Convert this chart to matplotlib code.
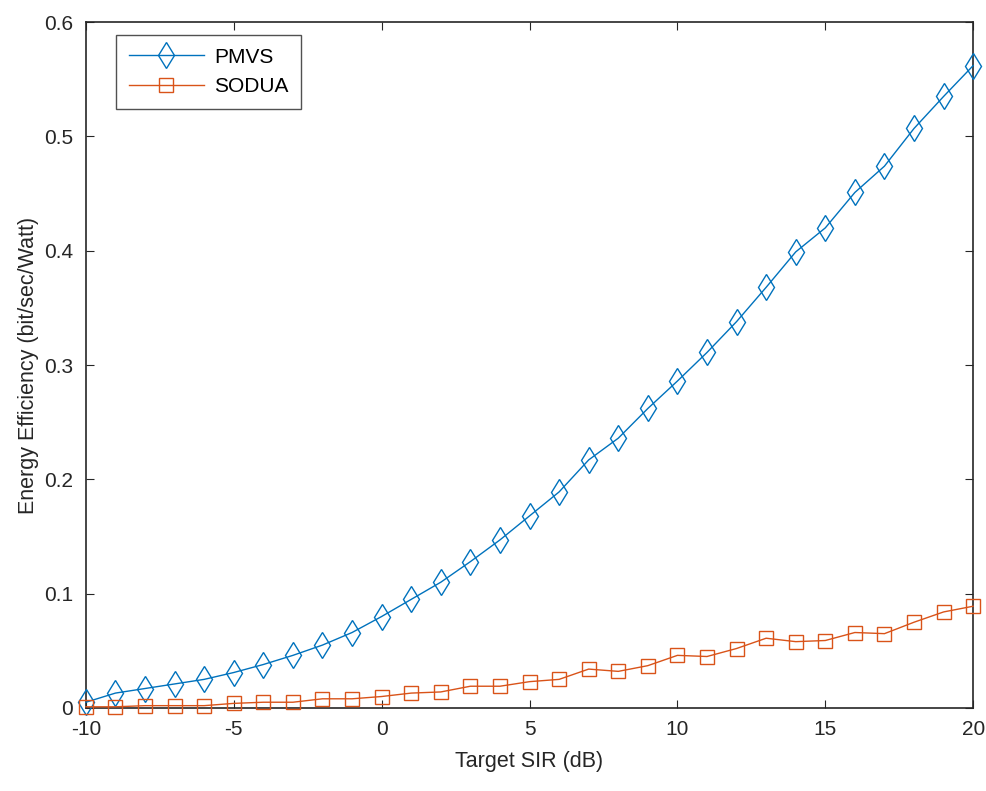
import numpy as np
import matplotlib.pyplot as plt

plt.rcParams['font.family'] = ['Liberation Sans', 'DejaVu Sans']
plt.rcParams['axes.unicode_minus'] = False

sir = list(range(-10, 21))
pmvs = [0.005, 0.013, 0.017, 0.021, 0.025, 0.031, 0.038, 0.046, 0.055, 0.066,
        0.080, 0.095, 0.110, 0.128, 0.147, 0.168, 0.189, 0.217, 0.236, 0.262,
        0.286, 0.311, 0.338, 0.368, 0.399, 0.420, 0.451, 0.474, 0.507, 0.535, 0.562]
sodua = [0.001, 0.001, 0.002, 0.002, 0.002, 0.004, 0.005, 0.005, 0.008, 0.008,
         0.010, 0.013, 0.014, 0.019, 0.019, 0.023, 0.025, 0.034, 0.032, 0.037,
         0.046, 0.045, 0.052, 0.061, 0.058, 0.059, 0.066, 0.065, 0.075, 0.084, 0.089]

fig = plt.figure(figsize=(9.87, 7.91), dpi=100)
ax = fig.add_axes([0.087, 0.105, 0.899, 0.867])

ax.plot(sir, pmvs, color='#0072BD', marker='d', markersize=13, markerfacecolor='none',
        markeredgewidth=1.0, linewidth=1.0, label='PMVS', clip_on=False, zorder=3)
ax.plot(sir, sodua, color='#D95319', marker='s', markersize=10.5, markerfacecolor='none',
        markeredgewidth=1.0, linewidth=1.0, label='SODUA', clip_on=False, zorder=3)

ax.set_xlim(-10, 20)
ax.set_ylim(0, 0.6)
ax.set_xticks([-10, -5, 0, 5, 10, 15, 20])
ax.set_yticks([0, 0.1, 0.2, 0.3, 0.4, 0.5, 0.6])
ax.set_yticklabels(['0', '0.1', '0.2', '0.3', '0.4', '0.5', '0.6'])
ax.tick_params(direction='in', top=True, right=True, length=6, labelsize=15,
               colors='#262626', pad=9)
for s in ax.spines.values():
    s.set_color('#262626')
    s.set_linewidth(1.2)

ax.set_xlabel('Target SIR (dB)', fontsize=15.5, color='#262626', labelpad=8)
ax.set_ylabel('Energy Efficiency (bit/sec/Watt)', fontsize=15.5, color='#262626', labelpad=4)

leg = ax.legend(loc='upper left', bbox_to_anchor=(0.034, 0.981), borderaxespad=0,
                fontsize=15, fancybox=False, edgecolor='#262626',
                borderpad=0.6, labelspacing=0.5, handlelength=3.6, handletextpad=0.5)
leg.get_frame().set_linewidth(1.0)

fig.savefig('out.png', dpi=100)
